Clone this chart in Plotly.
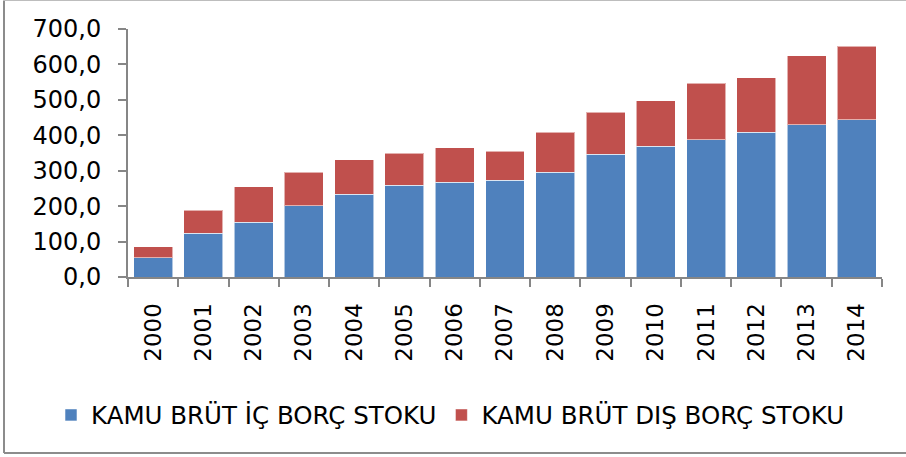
import plotly.graph_objects as go

years = [str(y) for y in range(2000, 2015)]
ic_borc = [54, 124, 155, 201, 234, 259, 268, 273, 296, 347, 369, 387, 408, 430, 444]
dis_borc = [31, 64, 100, 95, 97, 91, 97, 82, 112, 118, 128, 160, 155, 194, 207]
y_ticks = [0, 100, 200, 300, 400, 500, 600, 700]
y_labels = ["0,0", "100,0", "200,0", "300,0", "400,0", "500,0", "600,0", "700,0"]

FONT = "DejaVu Sans, Verdana, sans-serif"
W, H = 906, 457
L, R, T, B = 128, 24, 29, 180
pw, ph = W - L - R, H - T - B


def px(x):
    return (x - L) / pw


def py(y):
    return (H - B - y) / ph


fig = go.Figure()
fig.add_trace(go.Bar(
    x=years, y=ic_borc, name="KAMU BRÜT İÇ BORÇ STOKU",
    marker=dict(color="#4F81BD", line=dict(color="rgba(255,255,255,0.55)", width=1)),
))
fig.add_trace(go.Bar(
    x=years, y=dis_borc, name="KAMU BRÜT DIŞ BORÇ STOKU",
    marker=dict(color="#C0504D", line=dict(color="rgba(255,255,255,0.55)", width=1)),
))

fig.update_layout(
    barmode="stack",
    bargap=0.225,
    width=W, height=H,
    margin=dict(l=L, r=R, t=T, b=B, pad=0, autoexpand=False),
    paper_bgcolor="white",
    plot_bgcolor="white",
    font=dict(family=FONT, size=24, color="black"),
    showlegend=True,
    legend=dict(
        orientation="h",
        x=px(51), xanchor="left",
        y=py(415), yanchor="middle",
        font=dict(size=24.5),
        itemwidth=30,
        traceorder="normal",
        bgcolor="rgba(0,0,0,0)",
    ),
)

fig.update_xaxes(
    type="category",
    tickangle=-90,
    tickson="boundaries",
    ticks="outside", ticklen=8, tickwidth=2, tickcolor="#868686",
    showline=True, linecolor="#868686", linewidth=2,
    showgrid=False,
    ticklabelstandoff=15,
    automargin=False,
    tickfont=dict(size=23, family=FONT),
)
fig.update_yaxes(
    range=[0, 700],
    tickmode="array", tickvals=y_ticks, ticktext=y_labels,
    ticks="outside", ticklen=8, tickwidth=2, tickcolor="#868686",
    showline=True, linecolor="#868686", linewidth=2,
    showgrid=False, zeroline=False,
    ticklabelstandoff=12,
    automargin=False,
    tickfont=dict(size=24, family=FONT),
)

# outer chart frame
fig.add_shape(type="line", xref="paper", yref="paper",
              x0=px(4), x1=px(4), y0=py(0.5), y1=py(453),
              line=dict(color="#8c8c8c", width=2))
fig.add_shape(type="line", xref="paper", yref="paper",
              x0=px(4), x1=px(906), y0=py(453), y1=py(453),
              line=dict(color="#8c8c8c", width=2))
fig.add_shape(type="line", xref="paper", yref="paper",
              x0=px(4), x1=px(906), y0=py(0.5), y1=py(0.5),
              line=dict(color="#bdbdbd", width=1))

fig.write_html("out.html", config={"displayModeBar": False},
               post_script="document.body.style.margin='0';")
